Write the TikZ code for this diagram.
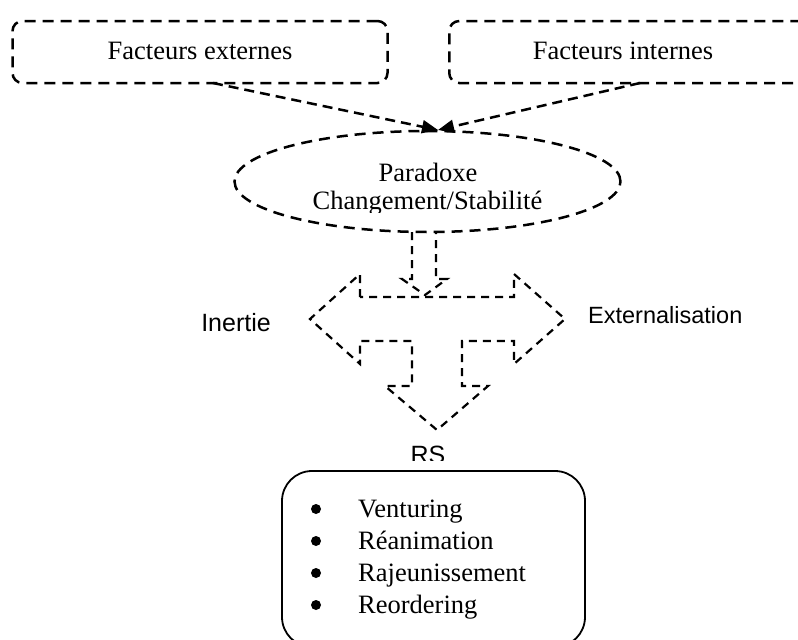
\documentclass[tikz,border=0pt]{standalone}
\usepackage{fontspec}
\setmainfont{Liberation Serif}
\newfontfamily\sansf{Liberation Sans}
\usetikzlibrary{arrows.meta,shapes.geometric}
\begin{document}
\begin{tikzpicture}[x=1pt,y=-1pt,
  dbox/.style={draw, line width=2.5pt, dash pattern=on 11pt off 7pt, rounded corners=10pt, inner sep=0pt},
  serif/.style={font=\fontsize{26.5}{30}\selectfont, inner sep=0pt},
  sanslab/.style={font=\sansf\fontsize{24}{28}\selectfont, inner sep=0pt},
  conn/.style={line width=2.5pt, dash pattern=on 10pt off 6pt, -{Triangle[length=16pt,width=13pt]}},
  ashape/.style={line width=2.2pt, dash pattern=on 8pt off 6pt, line join=miter},
  bul/.style={circle, fill, inner sep=0pt, minimum size=10pt}]
\useasboundingbox (0,0) rectangle (798,640);
\clip (0,0) rectangle (798,640);

% top boxes
\node[dbox, minimum width=375pt, minimum height=62pt] (ext) at (200,52) {};
\node[serif, anchor=base] (exttxt) at (200,59) {Facteurs externes};
\node[dbox, minimum width=362pt, minimum height=62pt, anchor=west] (int) at (448,52) {};
\node[serif, anchor=base] (inttxt) at (623,59) {Facteurs internes};

% ellipse
\node[draw, ellipse, line width=2.5pt, dash pattern=on 11pt off 7pt, minimum width=386pt, minimum height=101pt, inner sep=0pt] (par) at (427.5,181.5) {};
\node[serif, anchor=base] (par1) at (428,181) {Paradoxe};
\begin{scope}
  \clip (300,150) rectangle (560,212);
  \node[serif, anchor=base] (par2) at (427.5,209) {Changement/Stabilité};
\end{scope}

% connectors
\coordinate (a1) at (213,83);
\coordinate (a2) at (640,83);
\coordinate (meet) at (438,130);
\draw[conn] (a1) -- (meet);
\draw[conn] (a2) -- (meet);

% small down arrow
\draw[ashape] (412,232) -- (412,279) -- (402,279) -- (425,295) -- (447,279) -- (436,279) -- (436,232);

% left-right-down arrow
\draw[ashape] (360,297) -- (360,274) -- (310,319) -- (360,364) -- (360,341) -- (412,341)
  -- (412,386) -- (385,386) -- (437,430) -- (488,386) -- (462,386) -- (462,341)
  -- (514,341) -- (514,364) -- (565,319) -- (514,274) -- (514,297) -- cycle;

% labels
\node[sanslab, font=\sansf\fontsize{25}{28}\selectfont, anchor=base] (inertie) at (236,331) {Inertie};
\node[sanslab, font=\sansf\fontsize{23.5}{28}\selectfont, anchor=base west] (extern) at (588,323) {Externalisation};
\begin{scope}
  \clip (380,430) rectangle (480,460);
  \node[sanslab, font=\sansf\fontsize{25}{28}\selectfont, anchor=base] (rslab) at (428,463) {RS};
\end{scope}

% bottom box
\node[draw, line width=1.8pt, rounded corners=30pt, minimum width=303pt, minimum height=176pt, inner sep=0pt] (rs) at (433.5,559) {};
\node[bul] (b1) at (316,509) {};
\node[bul] (b2) at (316,541) {};
\node[bul] (b3) at (316,573) {};
\node[bul] (b4) at (316,605) {};
\node[serif, anchor=base west] (t1) at (358,517) {Venturing};
\node[serif, anchor=base west] (t2) at (358,549) {Réanimation};
\node[serif, anchor=base west] (t3) at (358,581) {Rajeunissement};
\node[serif, anchor=base west] (t4) at (358,613) {Reordering};
\end{tikzpicture}
\end{document}
